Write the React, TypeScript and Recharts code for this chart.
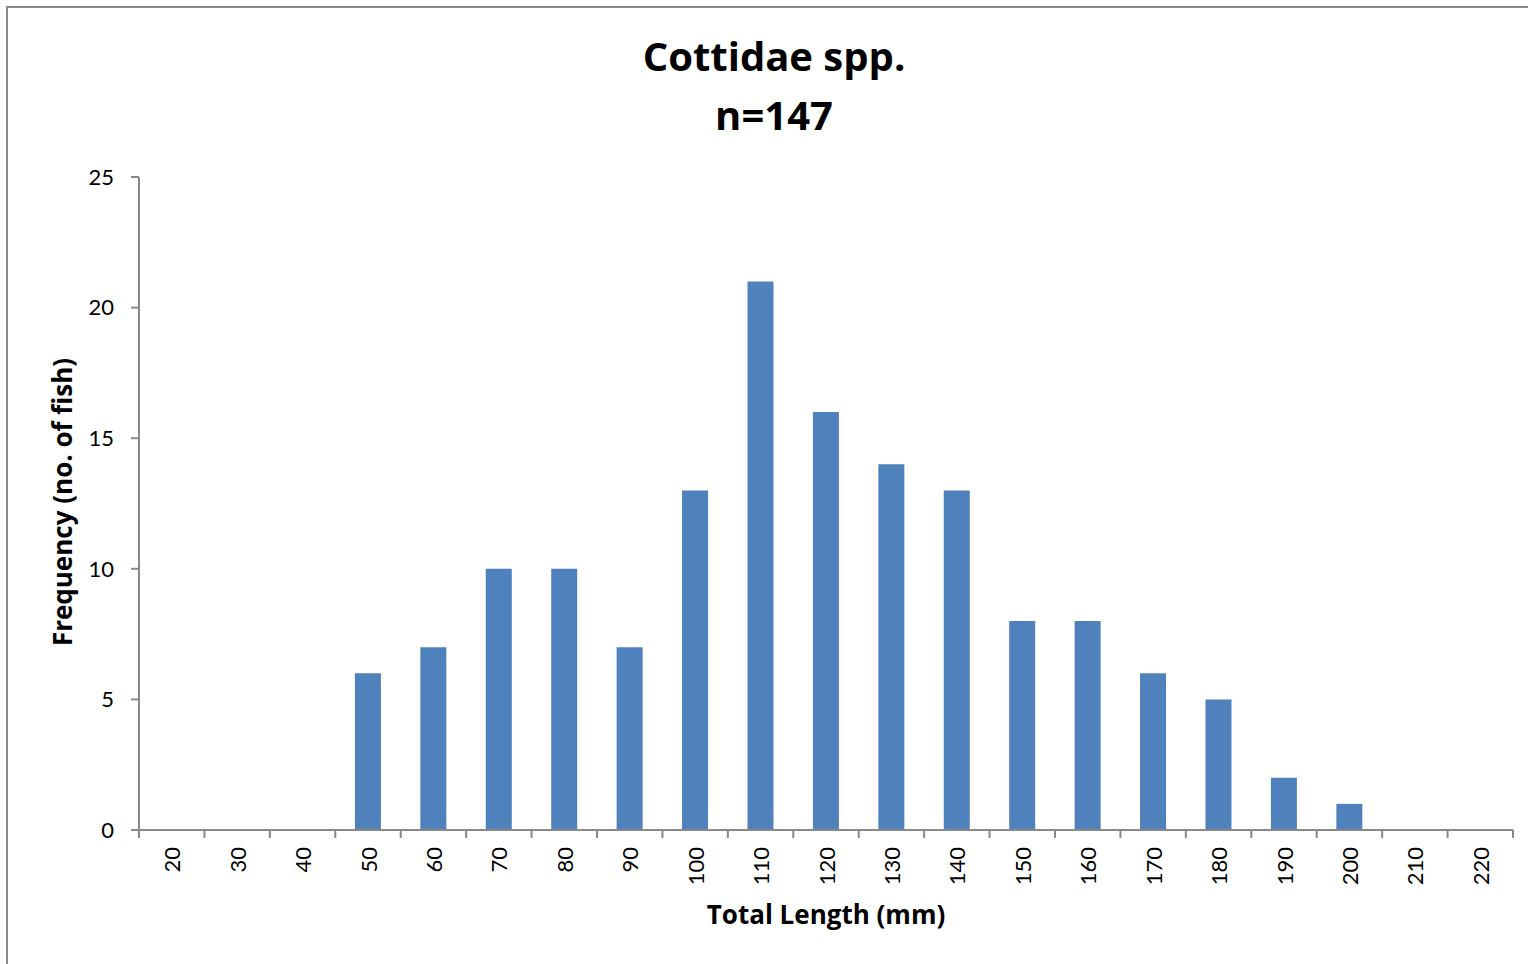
import React from "react";
import { BarChart, Bar, XAxis, YAxis } from "recharts";

const CATEGORIES = ["20", "30", "40", "50", "60", "70", "80", "90", "100", "110", "120", "130", "140", "150", "160", "170", "180", "190", "200", "210", "220"];
const FREQUENCY = [0, 0, 0, 6, 7, 10, 10, 7, 13, 21, 16, 14, 13, 8, 8, 6, 5, 2, 1, 0, 0];
const Y_TICKS = [0, 5, 10, 15, 20, 25];
const TITLE_LINES = ["Cottidae spp.", "n=147"];
const X_TITLE = "Total Length (mm)";
const Y_TITLE = "Frequency (no. of fish)";

const data = CATEGORIES.map((c, i) => ({ length: c, freq: FREQUENCY[i] }));

const W = 1528;
const H = 964;
const M_TOP = 177;
const M_RIGHT = 15;
const Y_AXIS_W = 139;
const X_AXIS_H = 134;
const PLOT_W = W - Y_AXIS_W - M_RIGHT;
const AXIS_Y = H - X_AXIS_H;
const AXIS_COLOR = "#898989";
const FONT = "Lato, 'Open Sans', sans-serif";
const TITLE_FONT = "'Open Sans', Lato, sans-serif";

const XTick = (props: any) => {
  const { x, payload } = props;
  const bw = PLOT_W / CATEGORIES.length;
  const isLast = payload.value === CATEGORIES[CATEGORIES.length - 1];
  const ty = AXIS_Y + 17;
  return (
    <g>
      <line x1={x - bw / 2} x2={x - bw / 2} y1={AXIS_Y} y2={AXIS_Y + 8} stroke={AXIS_COLOR} strokeWidth={2} />
      {isLast && <line x1={x + bw / 2} x2={x + bw / 2} y1={AXIS_Y} y2={AXIS_Y + 8} stroke={AXIS_COLOR} strokeWidth={2} />}
      <text
        x={x}
        y={ty}
        transform={`rotate(-90 ${x} ${ty})`}
        textAnchor="end"
        dominantBaseline="central"
        fill="#000"
        fontSize={22}
        fontFamily={FONT}
      >
        {payload.value}
      </text>
    </g>
  );
};

export default function App() {
  return (
    <div style={{ position: "absolute", left: 0, top: 0, width: W, height: H, overflow: "hidden", background: "#fff" }}>
      <div
        style={{
          position: "absolute",
          left: 6,
          top: 6,
          width: 1700,
          height: 1200,
          borderLeft: "2px solid #8a8a8a",
          borderTop: "2px solid #8a8a8a",
        }}
      />
      <div style={{ position: "absolute", left: 0, top: 0 }}>
        <BarChart
          width={W}
          height={H}
          data={data}
          margin={{ top: M_TOP, right: M_RIGHT, bottom: 0, left: 0 }}
          barCategoryGap="30%"
        >
          <XAxis
            dataKey="length"
            height={X_AXIS_H}
            interval={0}
            tickLine={false}
            tick={<XTick />}
            axisLine={{ stroke: AXIS_COLOR, strokeWidth: 2 }}
          />
          <YAxis
            width={Y_AXIS_W}
            domain={[0, 25]}
            ticks={Y_TICKS}
            interval={0}
            tickSize={8}
            tickMargin={17}
            axisLine={{ stroke: AXIS_COLOR, strokeWidth: 2 }}
            tickLine={{ stroke: AXIS_COLOR, strokeWidth: 2 }}
            tick={{ fill: "#000", fontSize: 22, fontFamily: FONT }}
          />
          <Bar dataKey="freq" fill="#4F81BD" isAnimationActive={false} />
        </BarChart>
      </div>
      <svg width={W} height={H} style={{ position: "absolute", left: 0, top: 0, pointerEvents: "none" }}>
        <text x={774} y={71} textAnchor="middle" fontFamily={TITLE_FONT} fontWeight="bold" fontSize={40} fill="#000">
          {TITLE_LINES[0]}
        </text>
        <text x={774} y={130} textAnchor="middle" fontFamily={TITLE_FONT} fontWeight="bold" fontSize={40} fill="#000">
          {TITLE_LINES[1]}
        </text>
        <text x={826} y={924} textAnchor="middle" fontFamily={TITLE_FONT} fontWeight="bold" fontSize={26} fill="#000">
          {X_TITLE}
        </text>
        <text
          x={72}
          y={502}
          transform="rotate(-90 72 502)"
          textAnchor="middle"
          fontFamily={TITLE_FONT}
          fontWeight="bold"
          fontSize={26}
          fill="#000"
        >
          {Y_TITLE}
        </text>
      </svg>
    </div>
  );
}
